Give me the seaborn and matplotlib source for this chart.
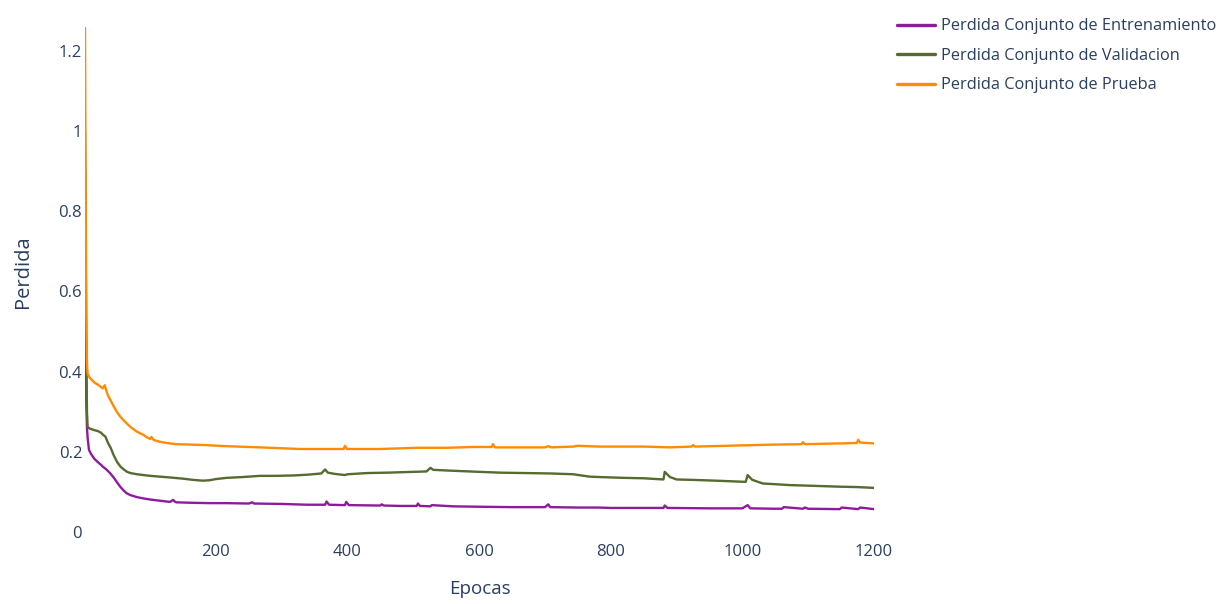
import matplotlib
matplotlib.use("Agg")
import matplotlib.pyplot as plt
import seaborn as sns
import pandas as pd

# ---------------- data ----------------
train_epochs = [1, 2, 3, 4, 5, 7, 10, 15, 20, 25, 28, 32, 36, 40, 45, 50, 55, 60, 64, 70,
                80, 89, 100, 115, 130, 135, 138, 140, 160, 190, 216, 250, 255, 258, 300,
                318, 340, 366, 368, 372, 396, 398, 402, 450, 452, 455, 480, 505, 507, 510,
                526, 528, 560, 600, 650, 700, 705, 708, 750, 780, 800, 850, 880, 882, 886,
                950, 1000, 1008, 1012, 1050, 1060, 1063, 1092, 1095, 1100, 1148, 1151,
                1176, 1179, 1200]
train_loss = [0.90, 0.55, 0.32, 0.26, 0.235, 0.205, 0.195, 0.183, 0.175, 0.168, 0.163,
              0.158, 0.152, 0.145, 0.135, 0.123, 0.112, 0.103, 0.097, 0.092, 0.087, 0.084,
              0.081, 0.078, 0.075, 0.080, 0.075, 0.074, 0.073, 0.072, 0.072, 0.071, 0.074,
              0.071, 0.070, 0.069, 0.068, 0.068, 0.076, 0.068, 0.067, 0.075, 0.067, 0.066,
              0.069, 0.066, 0.065, 0.065, 0.071, 0.065, 0.064, 0.067, 0.064, 0.063, 0.062,
              0.062, 0.069, 0.062, 0.061, 0.061, 0.060, 0.060, 0.060, 0.066, 0.060, 0.059,
              0.059, 0.067, 0.059, 0.058, 0.058, 0.062, 0.058, 0.061, 0.058, 0.057, 0.061,
              0.057, 0.061, 0.057]

val_epochs = [1, 2, 3, 4, 5, 8, 15, 20, 25, 28, 32, 36, 40, 45, 50, 55, 60, 65, 70, 80,
              90, 100, 115, 130, 150, 165, 180, 190, 200, 216, 240, 267, 290, 318, 340,
              360, 366, 370, 380, 396, 400, 430, 460, 480, 500, 520, 526, 530, 556, 600,
              632, 670, 708, 743, 768, 784, 820, 850, 880, 882, 890, 900, 924, 960, 1005,
              1008, 1015, 1031, 1072, 1110, 1148, 1175, 1200]
val_loss = [1.00, 0.70, 0.45, 0.30, 0.262, 0.258, 0.254, 0.252, 0.248, 0.243, 0.238, 0.222,
            0.210, 0.190, 0.174, 0.163, 0.156, 0.150, 0.147, 0.144, 0.142, 0.140, 0.138,
            0.136, 0.133, 0.130, 0.128, 0.129, 0.132, 0.135, 0.137, 0.140, 0.140, 0.141,
            0.143, 0.146, 0.156, 0.148, 0.145, 0.142, 0.144, 0.147, 0.148, 0.149, 0.150,
            0.151, 0.160, 0.155, 0.153, 0.150, 0.148, 0.147, 0.146, 0.144, 0.138, 0.137,
            0.135, 0.134, 0.131, 0.150, 0.137, 0.131, 0.130, 0.128, 0.125, 0.142, 0.130,
            0.121, 0.117, 0.115, 0.113, 0.112, 0.110]

test_epochs = [1, 2, 3, 4, 5, 8, 12, 16, 20, 25, 28, 31, 33, 36, 40, 45, 50, 55, 60, 65,
               70, 75, 80, 85, 90, 95, 100, 102, 105, 110, 115, 125, 140, 160, 180, 216,
               267, 328, 368, 394, 396, 399, 450, 505, 550, 591, 619, 621, 624, 700, 705,
               710, 743, 750, 764, 784, 850, 890, 923, 925, 928, 1000, 1050, 1090, 1092,
               1095, 1150, 1174, 1176, 1179, 1200]
test_loss = [1.257, 0.85, 0.55, 0.42, 0.395, 0.385, 0.378, 0.372, 0.368, 0.362, 0.358,
             0.366, 0.355, 0.340, 0.328, 0.312, 0.298, 0.287, 0.278, 0.270, 0.262, 0.256,
             0.250, 0.246, 0.242, 0.236, 0.232, 0.237, 0.230, 0.227, 0.225, 0.222, 0.219,
             0.218, 0.217, 0.214, 0.211, 0.207, 0.207, 0.207, 0.215, 0.207, 0.207, 0.210,
             0.210, 0.212, 0.212, 0.219, 0.211, 0.211, 0.214, 0.211, 0.213, 0.215, 0.214,
             0.213, 0.213, 0.211, 0.213, 0.217, 0.213, 0.216, 0.218, 0.219, 0.224, 0.219,
             0.221, 0.222, 0.230, 0.223, 0.221]

series_names = ["Perdida Conjunto de Entrenamiento",
                "Perdida Conjunto de Validacion",
                "Perdida Conjunto de Prueba"]
series_colors = ["#8f1a9c", "#556b2f", "#ff8c00"]

y_ticks = [0, 0.2, 0.4, 0.6, 0.8, 1.0, 1.2]
y_tick_labels = ["0", "0.2", "0.4", "0.6", "0.8", "1", "1.2"]
x_ticks = [200, 400, 600, 800, 1000, 1200]
x_tick_labels = ["200", "400", "600", "800", "1000", "1200"]

# ---------------- build long-form table ----------------
frames = []
for name, ep, loss in zip(series_names,
                          [train_epochs, val_epochs, test_epochs],
                          [train_loss, val_loss, test_loss]):
    frames.append(pd.DataFrame({"Epocas": ep, "Perdida": loss, "Serie": name}))
df = pd.concat(frames, ignore_index=True)

# ---------------- plot ----------------
sns.set_theme(style="white")
plt.rcParams["font.family"] = ["Open Sans", "DejaVu Sans"]
text_color = "#2a3f5f"

W, H = 1222, 604
fig = plt.figure(figsize=(W / 100, H / 100), dpi=100)
ax = fig.add_axes([85 / W, (H - 532) / H, (874 - 85) / W, (532 - 10.7) / H])

sns.lineplot(data=df, x="Epocas", y="Perdida", hue="Serie", hue_order=series_names,
             palette=series_colors, estimator=None, sort=False, linewidth=1.7, ax=ax)

ax.set_xlim(1, 1200)
ax.set_ylim(0, 1.3)
for s in ax.spines.values():
    s.set_visible(False)
ax.grid(False)
ax.set_xticks(x_ticks)
ax.set_xticklabels(x_tick_labels)
ax.set_yticks(y_ticks)
ax.set_yticklabels(y_tick_labels)
ax.tick_params(axis="both", length=0, labelsize=12, colors=text_color)
ax.tick_params(axis="y", pad=2)
ax.tick_params(axis="x", pad=9)

ax.set_xlabel("Epocas", fontsize=13.5, color=text_color)
ax.set_ylabel("Perdida", fontsize=14.5, color=text_color)
ax.xaxis.set_label_coords(0.5, -0.092)
ax.yaxis.set_label_coords(-0.066, 0.5)

handles, labels = ax.get_legend_handles_labels()
ax.legend(handles, labels, loc="upper left", bbox_to_anchor=(897 / W, 1 - 18.5 / H),
          bbox_transform=fig.transFigure, frameon=False, fontsize=11.8,
          handlelength=2.3, handletextpad=0.4, labelspacing=0.82, borderpad=0,
          borderaxespad=0, labelcolor=text_color)
for line in ax.get_legend().get_lines():
    line.set_linewidth(2.4)

fig.savefig("out.png", dpi=100, facecolor="white")
